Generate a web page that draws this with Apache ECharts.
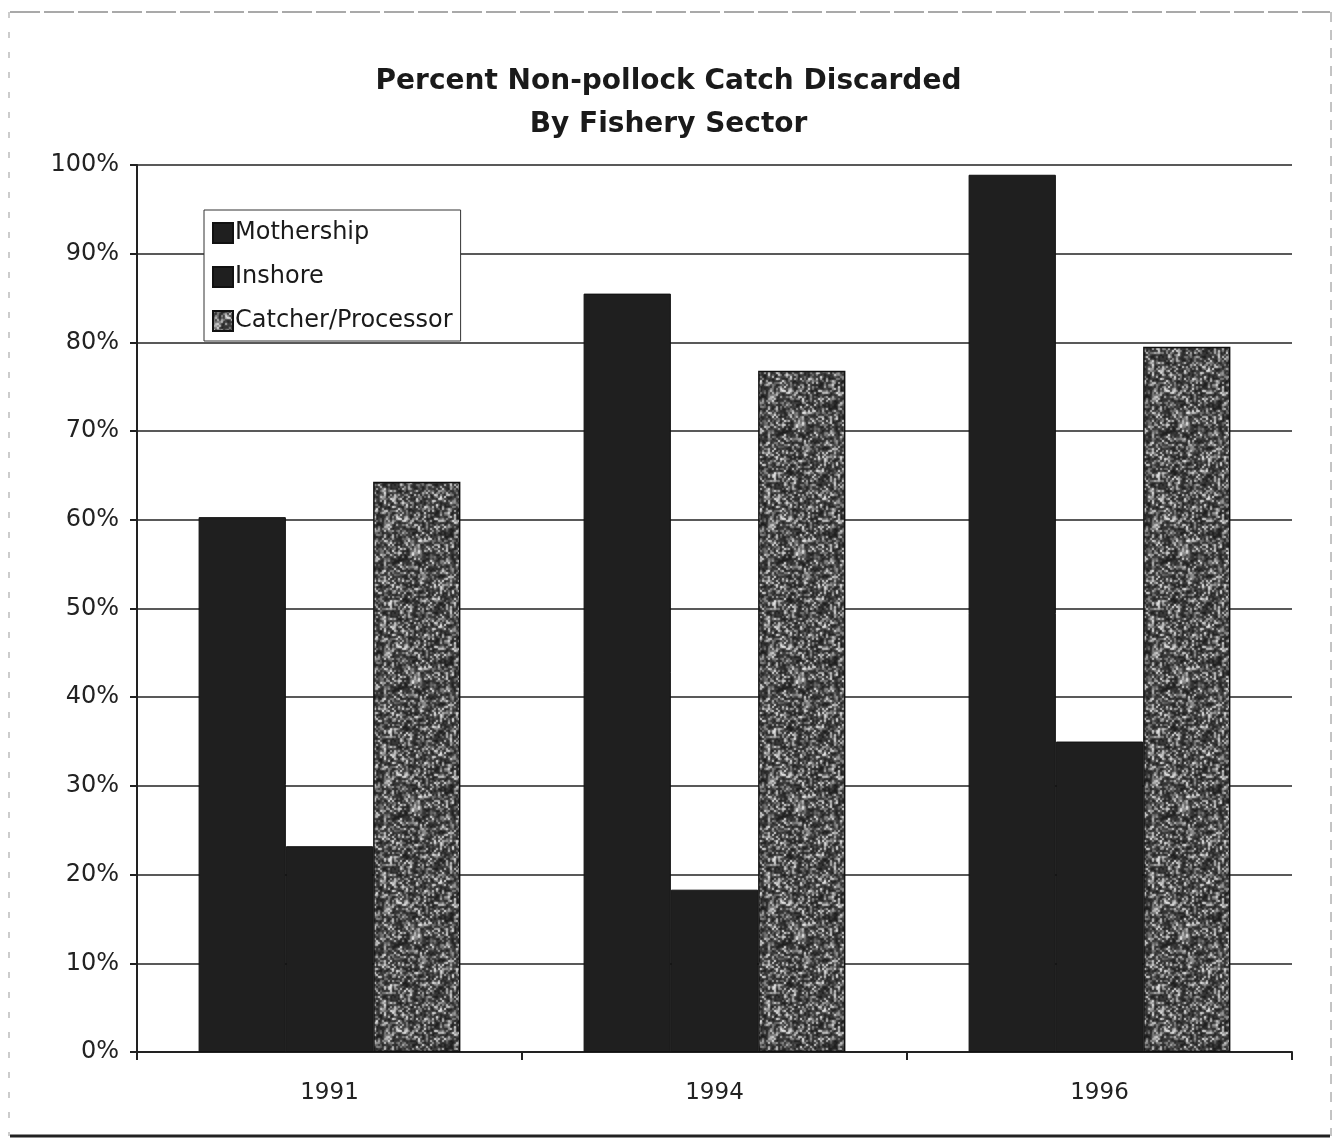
<!DOCTYPE html>
<html>
<head>
<meta charset="utf-8">
<title>Percent Non-pollock Catch Discarded By Fishery Sector</title>
<script src="https://cdn.jsdelivr.net/npm/echarts@6/dist/echarts.min.js"></script>
<style>
  html, body { margin: 0; padding: 0; background: #ffffff; }
  #chart { width: 1337px; height: 1144px; }
</style>
</head>
<body>
<div id="chart"></div>
<script>
// Fishery sector discard rates (percent of non-pollock catch)
const years = ['1991', '1994', '1996'];
const mothership = [60.3, 85.5, 98.9];
const inshore = [23.2, 18.3, 35.0];
const catcherProcessor = [64.3, 76.8, 79.5];

// Speckled dark grey fill for the catcher/processor bars (deterministic hash noise).
// Noise is generated on a coarse grid, then each output pixel averages its wrapped
// neighbours so the tile repeats without seams and the specks look like small blobs.
function speckleTexture(size) {
  const g = size / 2;
  const cells = new Float32Array(g * g);
  let s = 98765;
  function next() { s = (s * 1103515245 + 12345) & 0x7fffffff; return s / 0x7fffffff; }
  for (let i = 0; i < g * g; i++) {
    const r = next();
    cells[i] = r < 0.6 ? 25 + r * 70 : (r < 0.84 ? 90 + (r - 0.6) * 300 : 175 + (r - 0.84) * 480);
  }
  const at = (x, y) => cells[((y + g) % g) * g + ((x + g) % g)];
  const c = document.createElement('canvas');
  c.width = size; c.height = size;
  const ctx = c.getContext('2d');
  const img = ctx.createImageData(size, size);
  for (let y = 0; y < size; y++) {
    for (let x = 0; x < size; x++) {
      const cx = x >> 1, cy = y >> 1;
      const nx = (x & 1) ? 1 : -1, ny = (y & 1) ? 1 : -1;
      const v = at(cx, cy) * 0.64 + at(cx + nx, cy) * 0.14 + at(cx, cy + ny) * 0.14 + at(cx + nx, cy + ny) * 0.08;
      const k = (y * size + x) * 4;
      img.data[k] = v; img.data[k + 1] = v; img.data[k + 2] = v; img.data[k + 3] = 255;
    }
  }
  ctx.putImageData(img, 0, 0);
  return c;
}
const speckle = { image: speckleTexture(128), repeat: 'repeat' };

const chart = echarts.init(document.getElementById('chart'), null, { renderer: 'canvas' });
const font = '"DejaVu Sans", "Liberation Sans", Arial, sans-serif';

chart.setOption({
  backgroundColor: '#ffffff',
  animation: false,
  title: {
    text: 'Percent Non-pollock Catch Discarded\nBy Fishery Sector',
    left: 'center',
    top: 55,
    textStyle: { fontFamily: font, fontSize: 28, fontWeight: 'bold', color: '#1a1a1a', lineHeight: 43 }
  },
  legend: {
    orient: 'vertical',
    left: 204,
    top: 210,
    padding: [11, 8, 8, 8],
    itemWidth: 20,
    itemHeight: 20,
    itemGap: 20,
    backgroundColor: '#ffffff',
    borderColor: '#333',
    borderWidth: 1,
    borderRadius: 0,
    textStyle: { fontFamily: font, fontSize: 24, color: '#1a1a1a', padding: [0, 0, 0, -3] },
    data: [
      { name: 'Mothership', icon: 'rect' },
      { name: 'Inshore', icon: 'rect' },
      { name: 'Catcher/Processor', icon: 'rect' }
    ]
  },
  grid: { left: 137, right: 45, top: 165, bottom: 92 },
  xAxis: {
    type: 'category',
    data: years,
    axisLine: { lineStyle: { color: '#222', width: 2 } },
    axisTick: { show: true, length: 8, lineStyle: { color: '#222', width: 2 } },
    axisLabel: { fontFamily: font, fontSize: 23, color: '#222', margin: 30 }
  },
  yAxis: {
    type: 'value',
    min: 0,
    max: 100,
    interval: 10,
    axisLine: { show: true, lineStyle: { color: '#222', width: 2 } },
    axisTick: { show: true, length: 7, lineStyle: { color: '#222', width: 2 } },
    axisLabel: { fontFamily: font, fontSize: 24, color: '#222', margin: 18, formatter: '{value}%' },
    splitLine: { show: true, lineStyle: { color: '#222', width: 1.6 } }
  },
  series: [
    {
      name: 'Mothership',
      type: 'bar',
      data: mothership,
      barGap: '0%',
      barCategoryGap: '32%',
      itemStyle: { color: '#1f1f1f', borderColor: '#111', borderWidth: 1 }
    },
    {
      name: 'Inshore',
      type: 'bar',
      data: inshore,
      itemStyle: { color: '#1f1f1f', borderColor: '#111', borderWidth: 1 }
    },
    {
      name: 'Catcher/Processor',
      type: 'bar',
      data: catcherProcessor,
      itemStyle: { color: speckle, borderColor: '#111', borderWidth: 1.5 }
    }
  ],
  graphic: [
    // page frame
    { type: 'line', shape: { x1: 10, y1: 12, x2: 1330, y2: 12 }, style: { stroke: '#555', lineWidth: 1.2, lineDash: [30, 4] } },
    { type: 'line', shape: { x1: 10, y1: 1136, x2: 1330, y2: 1136 }, style: { stroke: '#222', lineWidth: 3 } },
    { type: 'line', shape: { x1: 9, y1: 12, x2: 9, y2: 1136 }, style: { stroke: '#999', lineWidth: 1, lineDash: [6, 14] } },
    { type: 'line', shape: { x1: 1331, y1: 12, x2: 1331, y2: 1136 }, style: { stroke: '#888', lineWidth: 1, lineDash: [10, 8] } }
  ]
});
</script>
</body>
</html>
